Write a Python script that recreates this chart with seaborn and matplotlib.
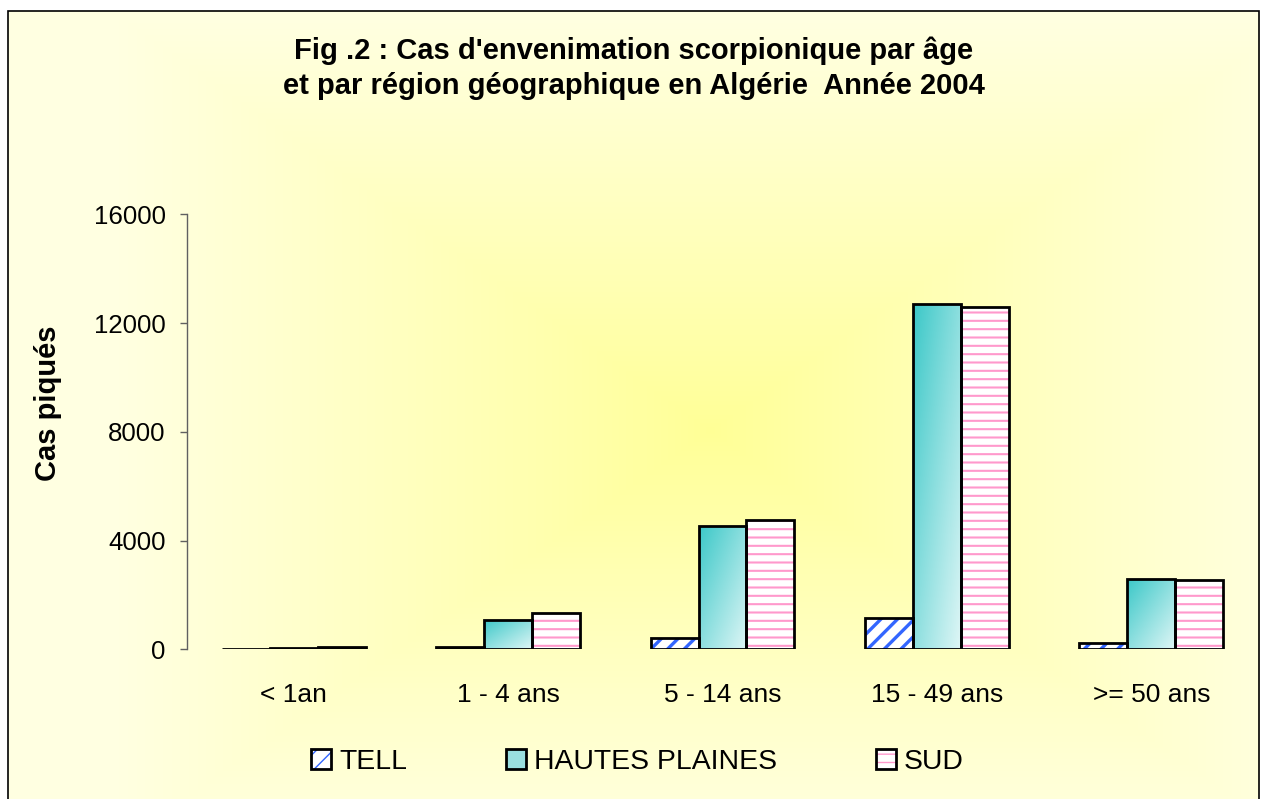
import numpy as np
import pandas as pd
import matplotlib
matplotlib.use("Agg")
import matplotlib.pyplot as plt
from matplotlib.patches import Rectangle, Patch
import seaborn as sns

# données
ages = ["< 1an", "1 - 4 ans", "5 - 14 ans", "15 - 49 ans", ">= 50 ans"]
regions = ["TELL", "HAUTES PLAINES", "SUD"]
tell = [10, 85, 430, 1165, 245]
hautes_plaines = [40, 1080, 4540, 12715, 2575]
sud = [80, 1350, 4745, 12605, 2550]
y_ticks = [0, 4000, 8000, 12000, 16000]

title = ("Fig .2 : Cas d'envenimation scorpionique par âge\n"
         "et par région géographique en Algérie  Année 2004")

df = pd.DataFrame({
    "age": ages * 3,
    "region": [r for r in regions for _ in ages],
    "cas": tell + hautes_plaines + sud,
})

sns.set_theme(style="white")
plt.rcParams["font.family"] = ["Liberation Sans", "DejaVu Sans"]
plt.rcParams["text.color"] = "black"

W, H = 1267, 799
fig = plt.figure(figsize=(W / 100, H / 100), dpi=100)
fig.patch.set_facecolor("white")

# fond du graphique : dégradé rectangulaire jaune
left_px, top_px, right_px = 8, 11, 1259
bg = fig.add_axes([left_px / W, 0, (right_px - left_px) / W, 1 - top_px / H], zorder=-5)
xs = np.arange(left_px, right_px)
ys = np.arange(top_px, H)
X, Y = np.meshgrid(xs, ys)
t = np.maximum(np.abs(X - 710) / 600, np.abs(Y - 430) / 420)
t = np.clip(t, 0, 1) ** 0.9
c_center = np.array([255, 255, 150]) / 255
c_edge = np.array([255, 255, 226]) / 255
img = c_center + (c_edge - c_center) * t[..., None]
bg.imshow(img, extent=[0, 1, 0, 1], aspect="auto")
bg.axis("off")
fig.add_artist(Rectangle((left_px / W, -0.02), (right_px - left_px) / W, 1 - top_px / H + 0.02,
                         transform=fig.transFigure, fill=False, ec="black", lw=1.2))

ax = fig.add_axes([186.5 / W, (H - 649.3) / H, 1072 / W, 434.8 / H])
ax.patch.set_alpha(0)

sns.barplot(data=df, x="age", y="cas", hue="region", order=ages, hue_order=regions,
            palette=["white", "#40C8C8", "white"], saturation=1, width=0.67,
            edgecolor="black", linewidth=2.0, errorbar=None, legend=False, ax=ax)

tell_bars, hp_bars, sud_bars = ax.containers


def overlay(bar, **kw):
    p = Rectangle(bar.get_xy(), bar.get_width(), bar.get_height(),
                  lw=0, zorder=bar.get_zorder() - 0.2, **kw)
    ax.add_patch(p)
    return p


for bar in tell_bars:
    p = overlay(bar, facecolor="white", edgecolor="#3366FF", hatch="//")
    if hasattr(p, "set_hatch_linewidth"):
        p.set_hatch_linewidth(2.4)
    bar.set_facecolor("none")

for bar in sud_bars:
    p = overlay(bar, facecolor="white", edgecolor="#FF99CC", hatch="--")
    if hasattr(p, "set_hatch_linewidth"):
        p.set_hatch_linewidth(1.5)
    bar.set_facecolor("none")

# dégradé diagonal des barres HAUTES PLAINES
u = np.linspace(0, 1, 60)
U, V = np.meshgrid(u, u)
g = ((U + V) / 2)[..., None]
dark = np.array([60, 200, 200]) / 255
light = np.array([222, 246, 246]) / 255
grad = dark + (light - dark) * g
for bar in hp_bars:
    x0, y0 = bar.get_xy()
    im = ax.imshow(grad, extent=[x0, x0 + bar.get_width(), y0, y0 + bar.get_height()],
                   aspect="auto", origin="upper", zorder=bar.get_zorder() - 0.2)
    im.set_clip_path(bar)
    bar.set_facecolor("none")

ax.set_xlim(-0.5, len(ages) - 0.5)
ax.set_ylim(0, 16000)
ax.set_yticks(y_ticks)
ax.set_yticklabels([str(v) for v in y_ticks])
ax.set_xlabel("")
ax.set_ylabel("")
for s in ["top", "right", "bottom"]:
    ax.spines[s].set_visible(False)
ax.spines["left"].set_color("#606060")
ax.spines["left"].set_linewidth(1.0)
ax.tick_params(axis="y", left=True, length=5, width=1.0, color="#606060",
               pad=10, labelsize=18.6, labelcolor="black")
ax.tick_params(axis="x", bottom=False, length=0, pad=24, labelsize=19, labelcolor="black")

fig.text(48.5 / W, 1 - 403 / H, "Cas piqués", rotation=90, ha="center", va="center",
         fontsize=21, fontweight="bold", color="black")
fig.text(0.5, 1 - 68 / H, title, ha="center", va="center", fontsize=21,
         fontweight="bold", linespacing=1.3, color="black")

outline = dict(facecolor="none", edgecolor="black", lw=2.0)
handles = [
    (Patch(facecolor="white", edgecolor="#3366FF", hatch="//", lw=0), Patch(**outline)),
    (Patch(facecolor="#9ADFDF", lw=0), Patch(**outline)),
    (Patch(facecolor="white", edgecolor="#FF99CC", hatch="--", lw=0), Patch(**outline)),
]
fig.legend(handles, regions, loc="center", bbox_to_anchor=(637.5 / W, 1 - 762 / H),
           ncol=3, frameon=False, fontsize=20.4, handlelength=0.7, handleheight=0.7,
           handletextpad=0.28, columnspacing=3.5)

fig.savefig("out.png", dpi=100)
